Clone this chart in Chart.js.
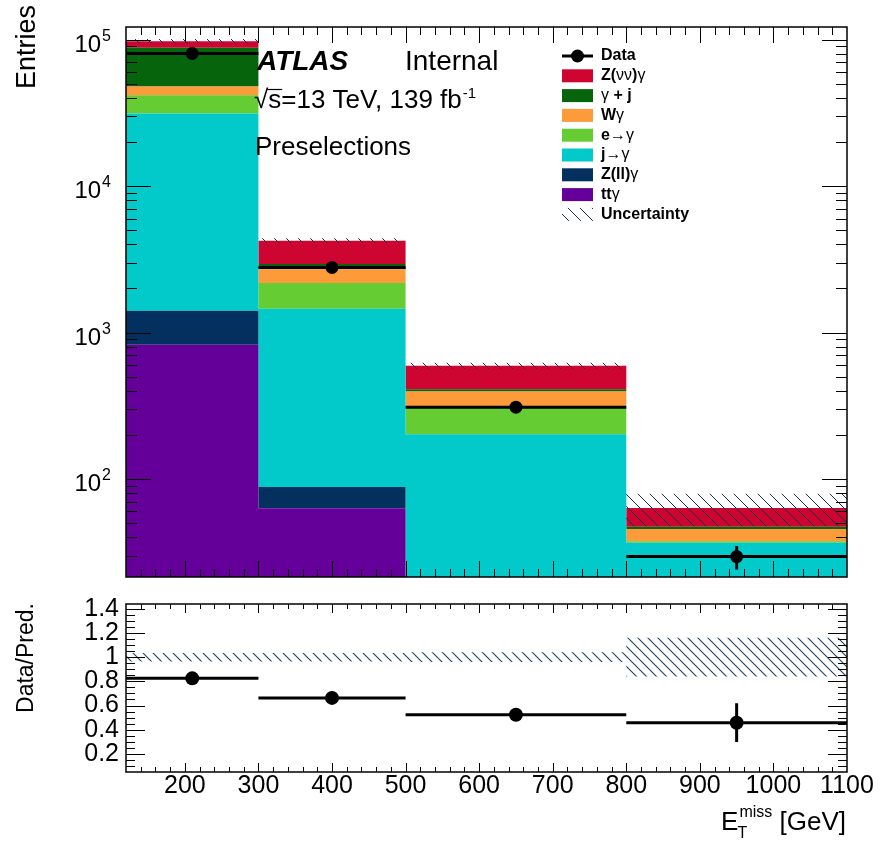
<!DOCTYPE html>
<html>
<head>
<meta charset="utf-8">
<title>MET preselections</title>
<script src="https://cdn.jsdelivr.net/npm/chart.js@4/dist/chart.umd.min.js"></script>
<style>
  body { margin: 0; background: #fff; }
  #wrap { position: relative; width: 881px; height: 844px; }
  canvas { position: absolute; left: 0; }
  #top { top: 0; }
  #ratio { top: 590px; }
</style>
</head>
<body>
<div id="wrap">
  <canvas id="top" width="881" height="590"></canvas>
  <canvas id="ratio" width="881" height="254"></canvas>
</div>
<script>
// bin edges (GeV)
const binEdges = [120, 300, 500, 800, 1100];

// backgrounds, bottom of the stack first
const ttGamma  = [824, 63, 9, 4];
const zllGamma = [582, 25, 6, 3];
const jetFake  = [29850, 1365, 187, 29.7];
const eleFake  = [10440, 725, 113, 0.8];
const wGamma   = [6260, 530, 80, 8];
const gammaJet = [39940, 225, 15, 1.7];
const znnGamma = [9600, 1300, 182, 16.2];

// data and uncertainties
const dataVals  = [80400, 2780, 309, 29.5];
const dataErr   = [284, 53, 18, 5.4];
const mcUncMain = [0.035, 0.04, 0.05, 0.25];

// ratio panel
const ratioVals = [0.825, 0.663, 0.524, 0.458];
const ratioErr  = [0.004, 0.013, 0.03, 0.16];
const ratioUnc  = [0.035, 0.035, 0.04, 0.16];

// tick labels
const logTicks   = [100, 1000, 10000, 100000];
const ratioTicks = [0.2, 0.4, 0.6, 0.8, 1, 1.2, 1.4];
const xTicks     = [200, 300, 400, 500, 600, 700, 800, 900, 1000, 1100];

const FONT = "'Liberation Sans', Arial, Helvetica, sans-serif";
Chart.defaults.font.family = FONT;
Chart.defaults.color = '#000';

const stack = [
  { label: 'tt\u03b3',       vals: ttGamma,  color: '#640099' },
  { label: 'Z(ll)\u03b3',    vals: zllGamma, color: '#03305f' },
  { label: 'j\u2192\u03b3',  vals: jetFake,  color: '#02cacb' },
  { label: 'e\u2192\u03b3',  vals: eleFake,  color: '#66cc33' },
  { label: 'W\u03b3',        vals: wGamma,   color: '#fd9b3b' },
  { label: '\u03b3 + j',     vals: gammaJet, color: '#06640c' },
  { label: 'Z(\u03bd\u03bd)\u03b3', vals: znnGamma, color: '#cf0531' }
];

// helpers to turn bin values into step points for the scales
function stepPoints(vals) {
  return binEdges.map((x, i) => ({ x: x, y: vals[Math.min(i, vals.length - 1)] }));
}
function binCentres() {
  return binEdges.slice(0, -1).map((e, i) => (e + binEdges[i + 1]) / 2);
}
function hLines(vals) {
  const pts = [];
  vals.forEach((v, i) => {
    pts.push({ x: binEdges[i], y: v }, { x: binEdges[i + 1], y: v }, { x: binEdges[i + 1], y: null });
  });
  return pts;
}
function vLines(vals, errs) {
  const c = binCentres();
  const pts = [];
  vals.forEach((v, i) => {
    pts.push({ x: c[i], y: v - errs[i] }, { x: c[i], y: v + errs[i] }, { x: c[i], y: null });
  });
  return pts;
}

function makeHatch(color, size, lw) {
  const c = document.createElement('canvas');
  c.width = size; c.height = size;
  const g = c.getContext('2d');
  g.strokeStyle = color;
  g.lineWidth = lw;
  g.beginPath();
  g.moveTo(0, 0); g.lineTo(size, size);
  g.moveTo(-2, size - 2); g.lineTo(2, size + 2);
  g.moveTo(size - 2, -2); g.lineTo(size + 2, 2);
  g.stroke();
  return g.createPattern(c, 'repeat');
}

// mixed text: greek letters drawn in regular weight
function drawRich(ctx, text, x, y, size, bold) {
  const runs = text.match(/[\u0370-\u03ff]+|[^\u0370-\u03ff]+/g);
  let cx = x;
  runs.forEach(r => {
    const greek = /[\u0370-\u03ff]/.test(r);
    ctx.font = (bold && !greek ? 'bold ' : '') + size + 'px ' + FONT;
    ctx.fillText(r, cx, y);
    cx += ctx.measureText(r).width;
  });
}

// ---------- top panel ----------
const total = [0, 0, 0, 0];
const topSets = [];
stack.forEach((s, k) => {
  s.vals.forEach((v, i) => { total[i] += v; });
  topSets.push({
    label: s.label,
    data: stepPoints(total.slice()),
    stepped: true,
    borderWidth: 0,
    pointRadius: 0,
    backgroundColor: s.color,
    fill: k === 0 ? 'start' : '-1',
    order: 10
  });
});

const hatchTop = makeHatch('#1b2f45', 12, 1);
const hatchRatio = makeHatch('#1f4063', 10, 1.1);

topSets.push({
  data: stepPoints(total.map((t, i) => t * (1 - mcUncMain[i]))),
  stepped: true, borderWidth: 0, pointRadius: 0, fill: false, order: 5
});
topSets.push({
  data: stepPoints(total.map((t, i) => t * (1 + mcUncMain[i]))),
  stepped: true, borderWidth: 0, pointRadius: 0, fill: '-1',
  backgroundColor: hatchTop, order: 5
});
topSets.push({
  data: hLines(dataVals), borderColor: '#000', borderWidth: 3, pointRadius: 0, fill: false, order: 1
});
topSets.push({
  data: vLines(dataVals, dataErr), borderColor: '#000', borderWidth: 3, pointRadius: 0, fill: false, order: 1
});
topSets.push({
  data: dataVals.map((v, i) => ({ x: binCentres()[i], y: v })),
  showLine: false, pointRadius: 6.5, pointBackgroundColor: '#000', pointBorderWidth: 0, order: 0
});

const topDecor = {
  id: 'topDecor',
  afterDraw(chart) {
    const { ctx, chartArea: a, scales: { x, y } } = chart;
    ctx.save();
    ctx.strokeStyle = '#000';
    ctx.lineWidth = 1;
    ctx.beginPath();
    for (let v = 140; v < 1100; v += 20) {
      const px = Math.round(x.getPixelForValue(v)) + 0.5;
      const len = v % 100 === 0 ? 16 : 8;
      ctx.moveTo(px, a.bottom); ctx.lineTo(px, a.bottom - len);
      ctx.moveTo(px, a.top); ctx.lineTo(px, a.top + len);
    }
    for (let d = 10; d <= 100000; d *= 10) {
      for (let k = 1; k <= 9; k++) {
        const v = k * d;
        if (v <= y.min || v >= y.max) continue;
        const py = Math.round(y.getPixelForValue(v)) + 0.5;
        const len = k === 1 ? 25 : 11;
        ctx.moveTo(a.left, py); ctx.lineTo(a.left + len, py);
        ctx.moveTo(a.right, py); ctx.lineTo(a.right - len, py);
      }
    }
    ctx.stroke();
    ctx.lineWidth = 1.5;
    ctx.strokeRect(a.left, a.top, a.right - a.left, a.bottom - a.top);

    // y tick labels 10^n
    ctx.fillStyle = '#000';
    ctx.textBaseline = 'alphabetic';
    ctx.textAlign = 'left';
    logTicks.forEach(v => {
      const py = y.getPixelForValue(v);
      const ex = String(Math.round(Math.log10(v)));
      ctx.font = '16px ' + FONT;
      const ew = ctx.measureText(ex).width;
      ctx.font = '24px ' + FONT;
      const tw = ctx.measureText('10').width;
      const right = a.left - 15;
      ctx.fillText('10', right - ew - tw - 1, py + 12);
      ctx.font = '16px ' + FONT;
      ctx.fillText(ex, right - ew, py + 1);
    });

    // y title
    ctx.save();
    ctx.translate(35, 5);
    ctx.rotate(-Math.PI / 2);
    ctx.textAlign = 'right';
    ctx.font = '27px ' + FONT;
    ctx.fillText('Entries', 0, 0);
    ctx.restore();

    // ATLAS label block
    ctx.font = 'italic bold 28px ' + FONT;
    ctx.fillText('ATLAS', 257, 70);
    ctx.font = '28px ' + FONT;
    ctx.fillText('Internal', 405, 70);
    ctx.font = '26px ' + FONT;
    let cx = 254;
    ctx.fillText('\u221a', cx, 108);
    cx += ctx.measureText('\u221a').width;
    const sw = ctx.measureText('s').width;
    ctx.fillText('s', cx, 108);
    ctx.lineWidth = 1.2;
    ctx.beginPath();
    ctx.moveTo(cx - 1, 89.5); ctx.lineTo(cx + sw + 1, 89.5);
    ctx.stroke();
    cx += sw;
    const rest = '=13 TeV, 139 fb';
    ctx.fillText(rest, cx, 108);
    cx += ctx.measureText(rest).width;
    ctx.font = '15px ' + FONT;
    ctx.fillText('-1', cx + 1, 98);
    ctx.font = '26px ' + FONT;
    ctx.fillText('Preselections', 255, 155);

    // legend
    const lx = 562, lw = 31, tx = 601;
    const rowY = i => 56 + i * 19.8;
    ctx.textBaseline = 'middle';
    ctx.lineWidth = 3;
    ctx.beginPath();
    ctx.moveTo(lx, rowY(0)); ctx.lineTo(lx + lw, rowY(0));
    ctx.stroke();
    ctx.beginPath();
    ctx.arc(lx + lw / 2, rowY(0), 6.5, 0, Math.PI * 2);
    ctx.fill();
    drawRich(ctx, 'Data', tx, rowY(0), 16, true);
    stack.slice().reverse().forEach((s, i) => {
      ctx.fillStyle = s.color;
      ctx.fillRect(lx, rowY(i + 1) - 6.5, lw, 13);
      ctx.fillStyle = '#000';
      drawRich(ctx, s.label, tx, rowY(i + 1), 16, true);
    });
    ctx.fillStyle = hatchTop;
    ctx.fillRect(lx, rowY(8) - 6.5, lw, 13);
    ctx.fillStyle = '#000';
    drawRich(ctx, 'Uncertainty', tx, rowY(8), 16, true);
    ctx.restore();
  }
};

new Chart(document.getElementById('top'), {
  type: 'line',
  data: { datasets: topSets },
  options: {
    responsive: false,
    animation: false,
    events: [],
    layout: { padding: { left: 126, right: 34, top: 27, bottom: 13 } },
    plugins: { legend: { display: false }, tooltip: { enabled: false } },
    scales: {
      x: { type: 'linear', min: 120, max: 1100, display: false },
      y: { type: 'logarithmic', min: 21.4, max: 122000, display: false }
    }
  },
  plugins: [topDecor]
});

// ---------- ratio panel ----------
const ratioSets = [
  {
    data: stepPoints(ratioUnc.map(u => 1 - u)),
    stepped: true, borderWidth: 0, pointRadius: 0, fill: false, order: 5
  },
  {
    data: stepPoints(ratioUnc.map(u => 1 + u)),
    stepped: true, borderWidth: 0, pointRadius: 0, fill: '-1',
    backgroundColor: hatchRatio, order: 5
  },
  { data: hLines(ratioVals), borderColor: '#000', borderWidth: 3, pointRadius: 0, fill: false, order: 1 },
  { data: vLines(ratioVals, ratioErr), borderColor: '#000', borderWidth: 3, pointRadius: 0, fill: false, order: 1 },
  {
    data: ratioVals.map((v, i) => ({ x: binCentres()[i], y: v })),
    showLine: false, pointRadius: 7, pointBackgroundColor: '#000', pointBorderWidth: 0, order: 0
  }
];

const ratioDecor = {
  id: 'ratioDecor',
  afterDraw(chart) {
    const { ctx, chartArea: a, scales: { x, y } } = chart;
    ctx.save();
    ctx.strokeStyle = '#000';
    ctx.lineWidth = 1;
    ctx.beginPath();
    for (let v = 140; v < 1100; v += 20) {
      const px = Math.round(x.getPixelForValue(v)) + 0.5;
      const len = v % 100 === 0 ? 9 : 5;
      ctx.moveTo(px, a.bottom); ctx.lineTo(px, a.bottom - len);
      ctx.moveTo(px, a.top); ctx.lineTo(px, a.top + len);
    }
    for (let k = 1; k * 0.05 < y.max; k++) {
      const v = k * 0.05;
      if (v <= y.min) continue;
      const py = Math.round(y.getPixelForValue(v)) + 0.5;
      const len = k % 4 === 0 ? 19 : 9;
      ctx.moveTo(a.left, py); ctx.lineTo(a.left + len, py);
      ctx.moveTo(a.right, py); ctx.lineTo(a.right - len, py);
    }
    ctx.stroke();
    ctx.lineWidth = 1.5;
    ctx.strokeRect(a.left, a.top, a.right - a.left, a.bottom - a.top);

    ctx.fillStyle = '#000';
    ctx.save();
    ctx.translate(33, 68);
    ctx.rotate(-Math.PI / 2);
    ctx.textAlign = 'center';
    ctx.font = '23px ' + FONT;
    ctx.fillText('Data/Pred.', 0, 0);
    ctx.restore();

    // x title: E_T^miss [GeV], right aligned
    ctx.textBaseline = 'alphabetic';
    ctx.textAlign = 'left';
    const base = 240;
    ctx.font = '26px ' + FONT;
    const eW = ctx.measureText('E').width;
    const gW = ctx.measureText(' [GeV]').width;
    ctx.font = '16px ' + FONT;
    const mW = ctx.measureText('miss').width;
    const start = 846 - gW - mW - eW - 1;
    ctx.font = '26px ' + FONT;
    ctx.fillText('E', start, base);
    ctx.font = '16px ' + FONT;
    ctx.fillText('miss', start + eW + 1, base - 13);
    ctx.fillText('T', start + eW - 1, base + 8);
    ctx.font = '26px ' + FONT;
    ctx.fillText(' [GeV]', start + eW + mW + 1, base);
    ctx.restore();
  }
};

new Chart(document.getElementById('ratio'), {
  type: 'line',
  data: { datasets: ratioSets },
  options: {
    responsive: false,
    animation: false,
    events: [],
    layout: { padding: { left: 0, right: 34, top: 14, bottom: 0 } },
    plugins: { legend: { display: false }, tooltip: { enabled: false } },
    scales: {
      x: {
        type: 'linear', min: 120, max: 1100,
        grid: { display: false, drawTicks: false },
        border: { display: false },
        ticks: {
          font: { size: 25, lineHeight: 1.1 }, color: '#000', padding: 0, autoSkip: false, maxRotation: 0,
          callback: v => String(v)
        },
        afterBuildTicks: s => { s.ticks = xTicks.map(v => ({ value: v })); },
        afterFit: s => { s.height = 72; s.paddingLeft = 0; s.paddingRight = 0; }
      },
      y: {
        min: 0.05, max: 1.44,
        grid: { display: false, drawTicks: false },
        border: { display: false },
        ticks: {
          font: { size: 25 }, color: '#000', padding: 7, autoSkip: false,
          callback: v => (v === 1 ? '1' : v.toFixed(1))
        },
        afterBuildTicks: s => { s.ticks = ratioTicks.map(v => ({ value: v })); },
        afterFit: s => { s.width = 126; s.paddingTop = 0; s.paddingBottom = 0; }
      }
    }
  },
  plugins: [ratioDecor]
});
</script>
</body>
</html>
